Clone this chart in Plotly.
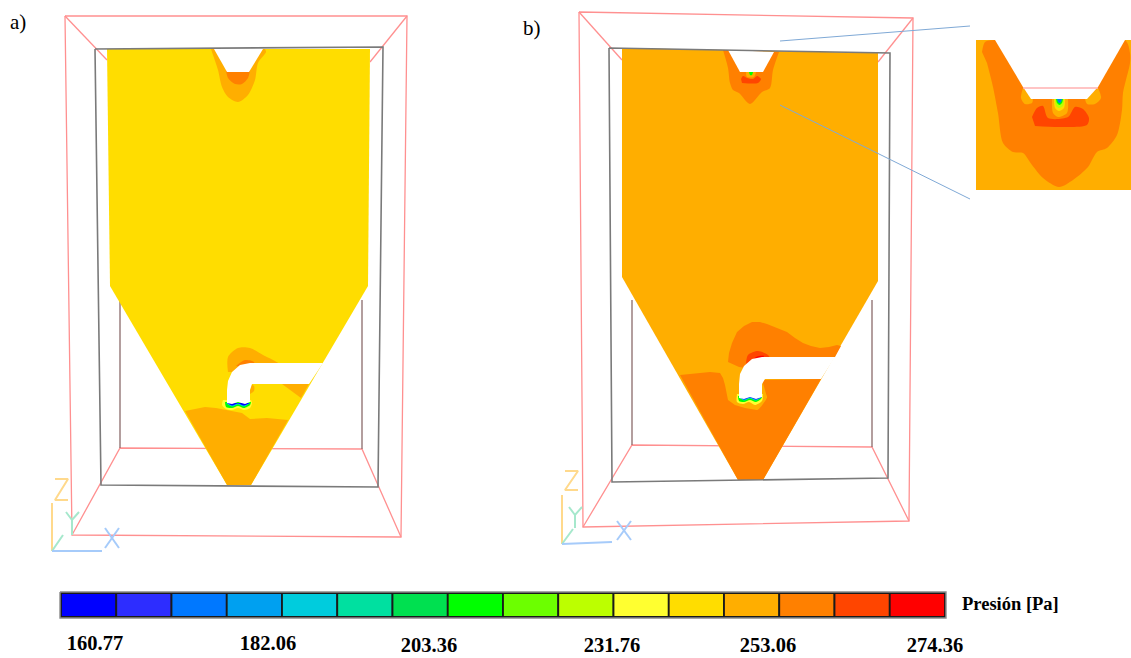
import plotly.graph_objects as go

PALETTE = ["#0000FF", "#2D2DFF", "#0078FF", "#00A0F0", "#00CCDD", "#00E0A0", "#00E050", "#00FF00",
           "#6CFF00", "#BCFF00", "#FFFF30", "#FFDD00", "#FFAE00", "#FF8000", "#FF4500", "#FF0000"]
BLUE, CYAN, GREEN, LIME, PALE, GOLD, AMBER, ORANGE, DEEP, RED = (
    PALETTE[0], PALETTE[4], PALETTE[7], PALETTE[9], PALETTE[10], PALETTE[11], PALETTE[12], PALETTE[13], PALETTE[14], PALETTE[15])

TICK_LABELS = ["160.77", "182.06", "203.36", "231.76", "253.06", "274.36"]
TICK_X = [95, 268, 429, 612, 768, 935]
TICK_Y = [645, 645, 647, 647, 647, 647]

# ---------- panel a ----------
A_BODY = [(107, 49), (370, 49), (368, 286), (251, 485), (227, 485), (110, 286)]
A_LOWER = [(185, 411), (205, 407), (216, 408), (228, 410), (242, 413), (250, 419), (267, 418), (288, 420), (251, 485), (227, 485)]
A_TOP1 = [(211, 49), (213, 55), (218, 70), (222, 87), (228, 97), (238, 102), (248, 95), (255, 80), (258, 63), (266, 52), (265, 49)]
A_TOP2 = [(226, 70), (228, 78), (235, 84), (242, 84), (248, 78), (250, 70)]
A_NOTCH = [(214, 49), (263, 49), (249, 72), (227, 72)]
A_PLUME1 = [(228, 372), (228, 357), (238, 348), (250, 348), (263, 355), (280, 365), (250, 372)]
A_PLUME2 = [(236, 366), (245, 360), (254, 362), (254, 368)]
A_SPOT = [(250, 384), (254, 386), (254, 391), (250, 394)]
A_WEDGE = [(282, 384), (309, 384), (301, 398)]
A_TIP1 = [(223, 400), (222, 405), (226, 409), (232, 410), (238, 408), (244, 410), (250, 408), (252, 403), (251, 400)]
A_TIP2 = [(225, 402), (226, 407), (232, 408), (238, 406), (244, 408), (250, 405), (251, 402)]
A_TIP3 = [(226, 403), (232, 406.5), (238, 404.5), (244, 406.5), (250, 403)]
A_TIP4 = [(227, 403), (232, 405.5), (238, 403.5), (244, 405.5), (250, 403)]
A_PIPE = [(227, 403), (232, 404), (238, 402), (245, 404), (250, 402), (250, 390), (252, 384), (309, 384), (323, 363),
          (250, 363), (240, 365), (232, 372), (228, 381), (227, 390)]
A_RED = [[(65, 16), (407, 16), (401, 537), (72, 535), (65, 16)],
         [(65, 16), (107, 60)], [(407, 16), (370, 62)],
         [(72, 535), (120, 448), (362, 449), (401, 537)]]
A_GRAY = [[(95, 49), (383, 47), (378, 487), (101, 485), (95, 49)],
          [(120, 300), (120, 448)], [(362, 300), (362, 449)]]
A_TRIAD = dict(
    z=[[(52, 503), (52, 551)], [(55, 479), (68, 479), (55, 500), (68, 500)]],
    y=[[(52, 551), (63, 535)], [(66, 512), (72, 520), (79, 512)], [(72, 520), (72, 535)]],
    x=[[(52, 551), (102, 551)], [(105, 528), (119, 548)], [(119, 528), (105, 548)]])

# ---------- panel b ----------
B_BODY = [(622, 48), (878, 53), (878, 281), (763, 480), (738, 480), (622, 277)]
B_TOP1 = [(723, 50), (728, 68), (730, 83), (733, 90), (739, 93), (750, 104), (762, 92), (770, 88), (773, 70), (779, 52)]
B_TOP2 = [(741, 79), (743, 76), (747, 78), (753, 79), (757, 76), (761, 79), (758, 83), (742, 83)]
B_TOP3 = [(746, 72), (747, 77), (754, 77), (756, 72)]
B_TOP4 = [(749, 72), (750, 75), (752, 75), (753, 72)]
B_NOTCH = [(728, 50), (774, 52), (763, 72), (740, 72)]
B_LOWER = [(680, 375), (690, 374), (700, 373), (710, 372), (720, 373), (723, 378), (725, 385), (728, 400), (735, 405), (745, 408), (757, 410), (767, 397),
           (762, 380), (821, 379), (763, 480), (738, 480)]
B_PLUME1 = [(728, 362), (729, 353), (732, 343), (737, 332), (744, 326), (752, 322), (760, 322), (767, 324), (777, 328),
            (787, 332), (795, 338), (803, 343), (811, 346), (820, 348), (829, 347), (837, 345), (841, 346), (835, 357),
            (760, 370), (739, 367)]
B_PLUME2 = [(746, 363), (748, 355), (758, 351), (768, 355), (770, 359), (750, 368)]
B_PLUME3 = [(751, 364), (756, 357), (764, 356), (756, 364)]
B_TIP0 = [(735, 392), (734, 401), (740, 405), (750, 405), (757, 410), (763, 404), (767, 397), (763, 392)]
B_TIP1 = [(737, 394), (737, 402), (743, 404), (749, 402), (755, 405), (762, 401), (763, 394)]
B_TIP2 = [(738, 396), (739, 401), (744, 402), (750, 400), (756, 402), (761, 399), (762, 396)]
B_TIP3 = [(739, 397), (744, 400.5), (750, 398.5), (756, 400.5), (762, 397)]
B_TIP4 = [(739, 397), (744, 399.5), (750, 397.5), (756, 399.5), (762, 397)]
B_PIPE = [(739, 398), (744, 399), (750, 397), (756, 399), (762, 397), (762, 384), (765, 379), (821, 379), (835, 357),
          (762, 357), (752, 359), (744, 366), (740, 374), (739, 384)]
B_RED = [[(579, 12), (913, 18), (909, 521), (583, 527), (579, 12)],
         [(579, 12), (622, 60)], [(913, 18), (878, 62)],
         [(583, 527), (632, 445), (872, 447), (909, 521)]]
B_GRAY = [[(609, 48), (890, 53), (888, 478), (612, 482), (609, 48)],
          [(632, 300), (632, 445)], [(872, 300), (872, 447)]]
B_TRIAD = dict(
    z=[[(562, 495), (562, 544)], [(565, 471), (578, 471), (565, 490), (578, 490)]],
    y=[[(562, 544), (573, 529)], [(569, 507), (575, 515), (582, 507)], [(575, 515), (575, 528)]],
    x=[[(562, 544), (612, 542)], [(617, 521), (631, 540)], [(631, 521), (617, 540)]])

# ---------- inset ----------
C_BOX = [(976, 40), (1131, 40), (1131, 190), (976, 190)]
C_ORANGE = [(982, 52), (985, 42), (995, 40), (1125, 40), (1130, 53), (1130, 63), (1123, 93), (1122, 110), (1117, 135), (1107, 148),
            (1097, 152), (1088, 167), (1073, 180), (1059, 187), (1043, 178), (1032, 165), (1023, 153), (1013, 152),
            (1003, 143), (998, 113), (993, 87), (987, 63)]
C_MASK = [(976, 28), (1131, 28), (1131, 40), (976, 40)]
C_DEEP = [(1032, 117), (1037, 108), (1043, 106), (1048, 118), (1068, 117), (1075, 107), (1083, 109), (1089, 118),
          (1087, 125), (1060, 127), (1035, 126)]
C_LEFT = [(1023, 88), (1021, 98), (1025, 104), (1032, 103), (1033, 99)]
C_RIGHT = [(1098, 88), (1101, 98), (1095, 104), (1087, 104), (1085, 99)]
C_CORE1 = [(1052, 99), (1053, 113), (1058, 117), (1067, 113), (1068, 99)]
C_CORE2 = [(1054, 99), (1055, 108), (1059, 111), (1064, 108), (1065, 99)]
C_CORE3 = [(1055, 99), (1056, 106), (1059, 108), (1063, 106), (1064, 99)]
C_CORE4 = [(1056, 99), (1057, 103), (1059.5, 105), (1062, 103), (1063, 99)]
C_CORE5 = [(1057, 99), (1058, 102), (1059.5, 103), (1061, 102), (1062, 99)]
C_NOTCH = [(995, 40), (1125, 40), (1098, 87), (1087, 99), (1031, 99), (1023, 87)]
C_PINK = [(1023, 88), (1098, 88)]
LEADERS = [[(780, 41), (970, 26)], [(780, 105), (970, 199)]]

# ---------- legend ----------
BAR_START = [61.0 + i * 55.25 for i in range(16)]
BAR_WIDTH = [55.25] * 16
BAR_Y = [605] * 16

fig = go.Figure()


def poly(pts, color, smooth=False):
    fig.add_trace(go.Scatter(x=[p[0] for p in pts], y=[p[1] for p in pts], mode="lines", fill="toself",
                             fillcolor=color,
                             line=dict(width=0, color=color, shape="spline" if smooth else "linear", smoothing=0.8),
                             hoverinfo="skip"))


def line(pts, color, width=1.3):
    fig.add_trace(go.Scatter(x=[p[0] for p in pts], y=[p[1] for p in pts], mode="lines",
                             line=dict(width=width, color=color), hoverinfo="skip"))


RED_LINE, GRAY_LINE = "#FF9090", "#7A7A7A"
for group in A_RED + B_RED:
    line(group, RED_LINE)
for group in A_GRAY[1:] + B_GRAY[1:]:
    line(group, "#8A6A6A")

for pts, col, sm in [(A_BODY, GOLD, 0), (A_LOWER, AMBER, 0), (A_TOP1, AMBER, 1), (A_TOP2, ORANGE, 1), (A_NOTCH, "#FFFFFF", 0),
                     (A_PLUME1, AMBER, 1), (A_PLUME2, ORANGE, 1), (A_SPOT, AMBER, 1), (A_WEDGE, AMBER, 0),
                     (A_TIP1, PALE, 1), (A_TIP2, GREEN, 1), (A_TIP3, CYAN, 1), (A_TIP4, BLUE, 1), (A_PIPE, "#FFFFFF", 0)]:
    poly(pts, col, sm)
for pts, col, sm in [(B_BODY, AMBER, 0), (B_TOP1, ORANGE, 1), (B_TOP2, DEEP, 1), (B_TOP3, AMBER, 1), (B_TOP4, GREEN, 1),
                     (B_NOTCH, "#FFFFFF", 0), (B_LOWER, ORANGE, 0), (B_PLUME1, ORANGE, 0), (B_PLUME2, DEEP, 1), (B_PLUME3, RED, 1),
                     (B_TIP0, AMBER, 1), (B_TIP1, PALE, 1), (B_TIP2, GREEN, 1), (B_TIP3, CYAN, 1), (B_TIP4, BLUE, 1), (B_PIPE, "#FFFFFF", 0)]:
    poly(pts, col, sm)
for group in A_GRAY[:1] + B_GRAY[:1]:
    line(group, GRAY_LINE, 1.6)

for pts, col, sm in [(C_BOX, AMBER, 0), (C_ORANGE, ORANGE, 1), (C_MASK, "#FFFFFF", 0), (C_DEEP, DEEP, 1), (C_LEFT, AMBER, 1),
                     (C_RIGHT, AMBER, 1), (C_NOTCH, "#FFFFFF", 0), (C_CORE1, AMBER, 1), (C_CORE2, GOLD, 1), (C_CORE3, LIME, 1),
                     (C_CORE4, GREEN, 1), (C_CORE5, "#0088E8", 1)]:
    poly(pts, col, sm)
line(C_PINK, "#FFB0B0", 1.6)
for group in LEADERS:
    line(group, "#7FA9D6", 1)

for triad in (A_TRIAD, B_TRIAD):
    for key, col in (("z", "#FFD98C"), ("y", "#A6E8CC"), ("x", "#A6CBFA")):
        for group in triad[key]:
            line(group, col, 2)

fig.add_trace(go.Bar(x=BAR_WIDTH, base=BAR_START, y=BAR_Y, width=24, orientation="h",
                     marker=dict(color=PALETTE, line=dict(color="#1A1A1A", width=1.8)), hoverinfo="skip"))
line([(60, 592), (946, 592), (946, 618), (60, 618), (60, 592)], "#8A8A8A", 1.4)

fig.add_trace(go.Scatter(x=TICK_X, y=TICK_Y, mode="text", text=TICK_LABELS, textposition="middle center", cliponaxis=False,
                         textfont=dict(family="Liberation Serif", size=20.5, color="#000000"),
                         texttemplate="<b>%{text}</b>", hoverinfo="skip"))
for txt, x, y, size, bold in [("a)", 18, 22, 21, False), ("b)", 532, 28, 21, False), ("Presión [Pa]", 1010, 604, 18.5, True)]:
    fig.add_annotation(x=x, y=y, text=f"<b>{txt}</b>" if bold else txt, showarrow=False,
                       font=dict(family="Liberation Serif", size=size, color="#000000"))

fig.update_layout(width=1131, height=658, margin=dict(l=0, r=0, t=0, b=0), showlegend=False,
                  paper_bgcolor="#FFFFFF", plot_bgcolor="#FFFFFF", barmode="overlay",
                  xaxis=dict(range=[0, 1131], visible=False, fixedrange=True),
                  yaxis=dict(range=[658, 0], visible=False, fixedrange=True))
fig.write_html("out.html", config=dict(displayModeBar=False),
               post_script="document.body.style.margin='0';document.body.style.overflow='hidden';")
